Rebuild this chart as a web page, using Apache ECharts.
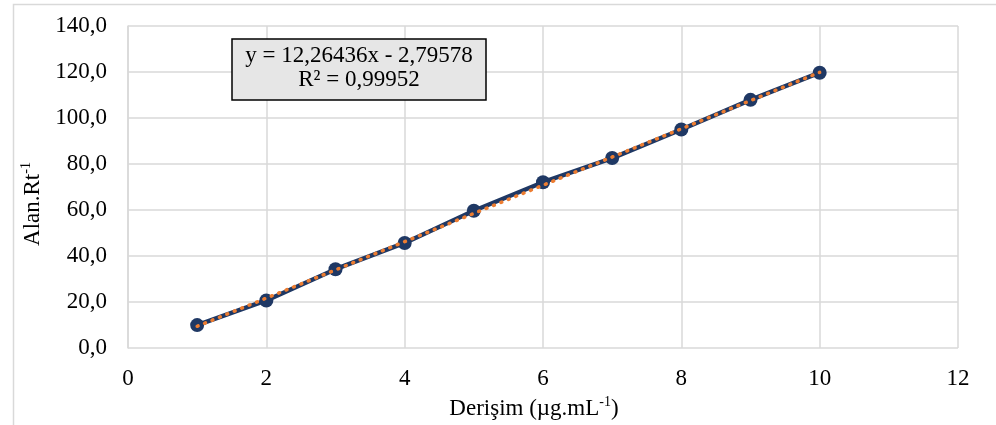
<!DOCTYPE html>
<html>
<head>
<meta charset="utf-8">
<script src="https://cdn.jsdelivr.net/npm/echarts@6/dist/echarts.min.js"></script>
<style>
  html, body { margin: 0; padding: 0; background: #fff; }
  #main { width: 996px; height: 425px; }
</style>
</head>
<body>
<div id="main"></div>
<script>
// veriler
var derisim = [1, 2, 3, 4, 5, 6, 7, 8, 9, 10];
var alan = [10.0, 20.7, 34.3, 45.7, 59.7, 72.1, 82.6, 95.0, 107.9, 119.7];
// dogrusal egilim cizgisi uclari
var trendX = [1, 10];
var trendY = [9.47, 119.85];
var denklem = 'y = 12,26436x - 2,79578';
var r2 = 'R² = 0,99952';

var yazi = 'Liberation Serif';
var gri = '#d9d9d9';
var boy = 23;

function virgul(v) {
	return v.toFixed(1).replace('.', ',');
}

var olcum = derisim.map(function (x, i) { return [x, alan[i]]; });
var egilim = trendX.map(function (x, i) { return [x, trendY[i]]; });

var ustSimge = {
	a: { fontFamily: yazi, fontSize: boy, color: '#000' },
	s: { fontFamily: yazi, fontSize: 14, color: '#000', padding: [0, 0, 13, 0] }
};

var option = {
	backgroundColor: '#fff',
	animation: false,
	grid: { left: 128, right: 38, top: 26, bottom: 72 },
	xAxis: {
		type: 'value',
		min: 0, max: 12, interval: 2,
		name: '{a|Derişim (µg.mL}{s|-1}{a|)}',
		nameLocation: 'middle',
		nameGap: 42,
		nameTextStyle: { rich: ustSimge, padding: [0, 18, 0, 0] },
		axisLine: { show: false },
		axisTick: { show: false },
		axisLabel: { fontFamily: yazi, fontSize: boy, color: '#000', margin: 19 },
		splitLine: { lineStyle: { color: gri, width: 1.5 } }
	},
	yAxis: {
		type: 'value',
		min: 0, max: 140, interval: 20,
		name: '{a|Alan.Rt}{s|-1}',
		nameLocation: 'middle',
		nameGap: 80,
		nameTextStyle: { rich: ustSimge, padding: [0, 34, 0, 0] },
		axisLine: { show: true, lineStyle: { color: gri, width: 1.5 } },
		axisTick: { show: false },
		axisLabel: { fontFamily: yazi, fontSize: boy, color: '#000', margin: 21, formatter: virgul },
		splitLine: { lineStyle: { color: gri, width: 1.5 } }
	},
	series: [
		{
			name: 'Alan',
			type: 'line',
			data: olcum,
			symbol: 'circle',
			symbolSize: 14,
			lineStyle: { color: '#1f3864', width: 4.5 },
			itemStyle: { color: '#1f3864' },
			z: 2
		},
		{
			name: 'Doğrusal',
			type: 'line',
			data: egilim,
			symbol: 'none',
			lineStyle: { color: '#ed7d31', width: 3.5, type: [1, 7], cap: 'round' },
			z: 3
		}
	],
	graphic: [
		{
			type: 'rect',
			shape: { x: 13.5, y: 4.5, width: 1100, height: 600 },
			style: { fill: 'none', stroke: gri, lineWidth: 1.5 },
			silent: true
		},
		{
			type: 'rect',
			shape: { x: 232, y: 39, width: 254, height: 61 },
			style: { fill: '#e6e6e6', stroke: '#000', lineWidth: 1.5 },
			z: 10
		},
		{
			type: 'text',
			x: 359, y: 68,
			style: {
				text: denklem + '\n' + r2,
				fontFamily: yazi, fontSize: boy, fill: '#000',
				align: 'center', verticalAlign: 'middle', lineHeight: 24
			},
			z: 11
		}
	]
};

var myChart = echarts.init(document.getElementById('main'));
myChart.setOption(option);
</script>
</body>
</html>
